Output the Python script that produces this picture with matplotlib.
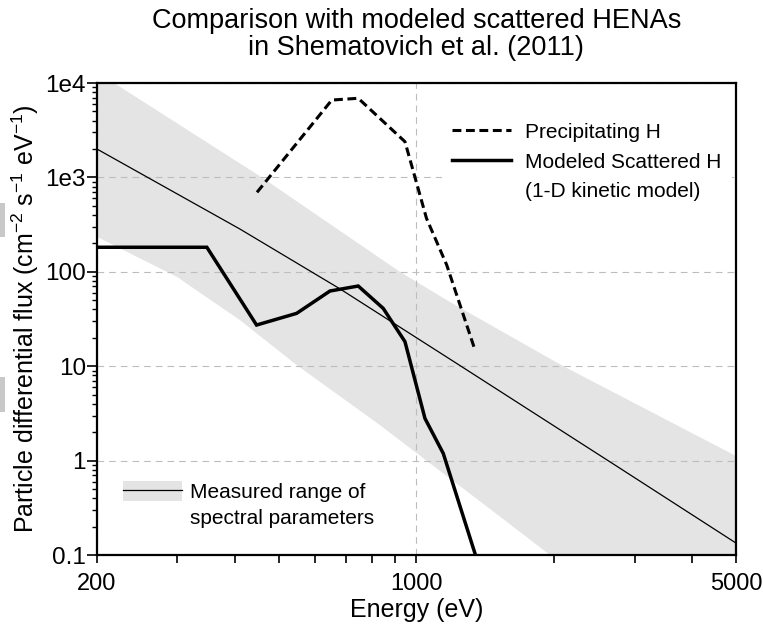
import numpy as np
import matplotlib
matplotlib.use("Agg")
import matplotlib.pyplot as plt
from matplotlib.lines import Line2D
from matplotlib.patches import Patch, Rectangle
from matplotlib.ticker import LogLocator, NullFormatter

# --- data -------------------------------------------------------------------
# power-law fit through the measured spectra (thin line)
fit_energy = [200, 411, 681, 1225, 2788, 5000]
fit_flux = [2000, 284, 65.8, 10.7, 0.83, 0.134]

# measured range of spectral parameters (grey band)
band_upper_energy = [200, 218, 459, 920, 1183, 2096, 5000]
band_upper_flux = [13000, 10000, 1000, 100, 48, 10, 1.12]
band_lower_energy = [200, 299, 411, 547, 832, 1524, 1960, 5000]
band_lower_flux = [235, 88.7, 30.8, 10.3, 2.38, 0.255, 0.1, 0.003]

# precipitating H (dashed)
precip_energy = [448, 653, 746, 944, 985, 1052, 1165, 1343]
precip_flux = [695, 6600, 6890, 2390, 1150, 369, 118, 14.9]

# modeled scattered H, 1-D kinetic model (thick solid)
scat_energy = [200, 348, 447, 547, 647, 746, 846, 944, 1044, 1145, 1343]
scat_flux = [182, 182, 27.3, 36.3, 62.6, 70.7, 41, 18.2, 2.8, 1.19, 0.104]

x_major = [200, 1000, 5000]
x_major_labels = ["200", "1000", "5000"]
x_minor = [300, 400, 500, 600, 700, 800, 900, 2000, 3000, 4000]
y_major = [0.1, 1, 10, 100, 1e3, 1e4]
y_major_labels = ["0.1", "1", "10", "100", "1e3", "1e4"]

band_color = "#e4e4e4"
grid_color = "#bdbdbd"

plt.rcParams["font.family"] = ["Liberation Sans", "DejaVu Sans"]
plt.rcParams["mathtext.fontset"] = "custom"
plt.rcParams["mathtext.rm"] = "Liberation Sans"
plt.rcParams["mathtext.it"] = "Liberation Sans:italic"
plt.rcParams["mathtext.bf"] = "Liberation Sans:bold"

fig = plt.figure(figsize=(7.63, 6.26), dpi=100)
ax = fig.add_axes([0.127, 0.1134, 0.8375, 0.754])

# band as a closed polygon: upper edge left->right, lower edge right->left
ax.fill(band_upper_energy + band_lower_energy[::-1],
        band_upper_flux + band_lower_flux[::-1],
        color=band_color, lw=0, zorder=1)

ax.plot(fit_energy, fit_flux, color="black", lw=0.9, zorder=2)
ax.plot(precip_energy, precip_flux, color="black", lw=2.2,
        ls=(0, (2.9, 1.5)), zorder=3)
ax.plot(scat_energy, scat_flux, color="black", lw=2.5, zorder=3,
        solid_joinstyle="miter")

ax.set_xscale("log")
ax.set_yscale("log")
ax.set_xlim(200, 5000)
ax.set_ylim(0.1, 1e4)

ax.set_xticks(x_major, x_major_labels)
ax.set_xticks(x_minor, minor=True)
ax.xaxis.set_minor_formatter(NullFormatter())
ax.set_yticks(y_major, y_major_labels)
ax.yaxis.set_minor_locator(LogLocator(base=10, subs=np.arange(2, 10)))
ax.yaxis.set_minor_formatter(NullFormatter())

ax.tick_params(axis="x", which="both", direction="out", length=6,
               width=1.2, labelsize=17, pad=7)
ax.tick_params(axis="y", which="major", direction="out", length=7,
               width=1.2, labelsize=17.5, pad=1)
ax.tick_params(axis="y", which="minor", direction="out", length=3.5,
               width=1.0)
for sp in ax.spines.values():
    sp.set_linewidth(1.6)

ax.set_axisbelow("line")
ax.grid(True, which="major", color=grid_color, lw=0.8, ls=(0, (6, 4.5)))

ax.set_title("Comparison with modeled scattered HENAs\n"
             "in Shematovich et al. (2011)", fontsize=19.5, pad=20,
             linespacing=1.05)
ax.set_xlabel("Energy (eV)", fontsize=18, labelpad=2)
ax.set_ylabel("Particle differential flux (cm$^{-2}$ s$^{-1}$ eV$^{-1}$)",
              fontsize=18, labelpad=3)

# legends
blank = Line2D([], [], color="none")
h_prec = Line2D([], [], color="black", lw=2.2, ls=(0, (2.9, 1.5)))
h_scat = Line2D([], [], color="black", lw=2.5)
leg1 = ax.legend([h_prec, h_scat, blank],
                 ["Precipitating H", "Modeled Scattered H", "(1-D kinetic model)"],
                 loc="upper left", bbox_to_anchor=(0.54, 0.938),
                 borderaxespad=0, borderpad=0.5, frameon=True,
                 facecolor="white", edgecolor="none", framealpha=1,
                 fancybox=False, fontsize=15, handlelength=2.8,
                 handletextpad=0.7, labelspacing=0.52)
ax.add_artist(leg1)

h_band = (Patch(facecolor=band_color, lw=0),
          Line2D([], [], color="black", lw=0.9))
ax.legend([h_band, blank], ["Measured range of", "spectral parameters"],
          loc="lower left", bbox_to_anchor=(0.041, 0.058),
          borderaxespad=0, borderpad=0, frameon=False, fontsize=15,
          handlelength=2.85, handleheight=1.1, handletextpad=0.35,
          labelspacing=0.2)

# grey scraps along the left edge of the original scan
for y0, h in [(203, 34), (377, 35)]:
    fig.add_artist(Rectangle((0, 1 - (y0 + h) / 626), 5 / 763, h / 626,
                             transform=fig.transFigure, color="#c8c8c8",
                             lw=0))

fig.savefig("out.png", dpi=100)
